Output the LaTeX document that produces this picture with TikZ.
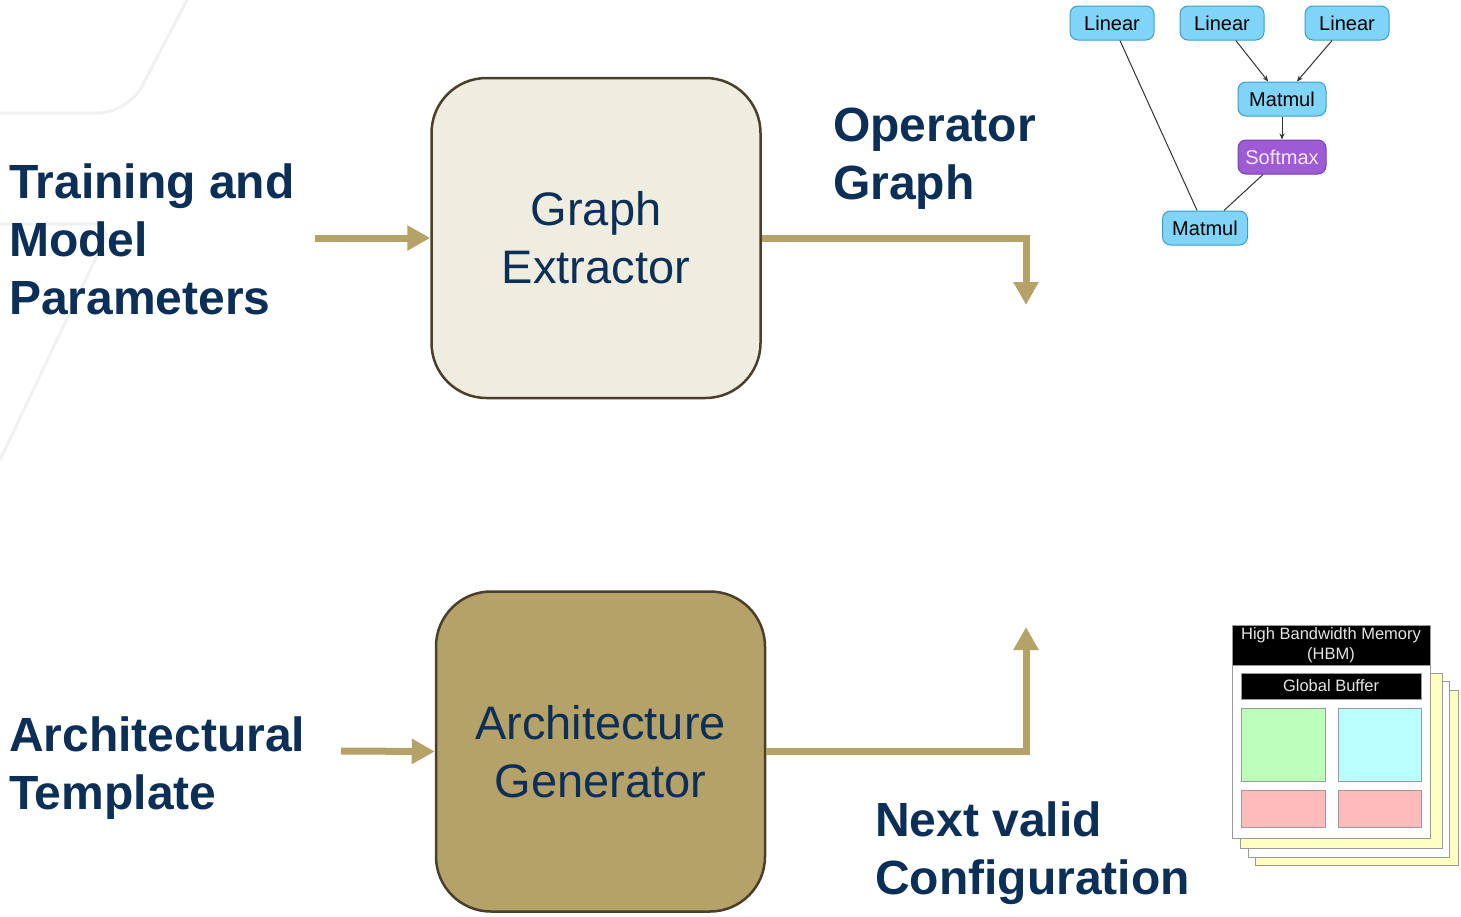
\documentclass[tikz,border=0pt]{standalone}
\usepackage{fontspec}
\setmainfont{Liberation Sans}
\usetikzlibrary{arrows.meta}
\definecolor{navy}{HTML}{0C2F57}
\definecolor{khaki}{HTML}{B5A268}
\definecolor{cream}{HTML}{EFECE0}
\definecolor{boxline}{HTML}{4A3F2A}
\definecolor{opblue}{HTML}{80D4F7}
\definecolor{opblueline}{HTML}{3C9CCC}
\definecolor{softfill}{HTML}{9D5CD6}
\definecolor{softline}{HTML}{7A3FB0}
\definecolor{softtext}{HTML}{F3E8FF}
\definecolor{faint}{HTML}{F1F1F1}
\definecolor{memyellow}{HTML}{FFFFC4}
\definecolor{memgreen}{HTML}{BBFFBB}
\definecolor{memcyan}{HTML}{BBFFFF}
\definecolor{mempink}{HTML}{FFBBBB}
\definecolor{memline}{HTML}{999999}
\tikzset{
  stagebox/.style={draw=boxline, line width=2.5pt, rounded corners=55pt,
    minimum width=329pt, minimum height=320pt, align=center, text=navy,
    font=\fontsize{47}{58}\selectfont},
  biglabel/.style={anchor=west, align=left, inner sep=0pt, text=navy,
    font=\fontsize{48}{58}\selectfont\bfseries},
  flow/.style={draw=khaki, line width=7pt,
    -{Triangle[width=24pt,length=23pt]}},
  opnode/.style={draw=opblueline, fill=opblue, line width=1pt,
    rounded corners=8pt, minimum width=84pt, minimum height=34pt,
    inner sep=0pt, font=\fontsize{20}{24}\selectfont},
  opedge/.style={draw=black!80, line width=1pt},
  oparrow/.style={opedge, -{Stealth[length=6pt,width=5pt]}},
  memlayer/.style={draw=memline, line width=1pt},
  memblack/.style={fill=black, draw=memline, line width=1pt, inner sep=0pt,
    align=center, text=white!90!black, font=\fontsize{16.5}{19.5}\selectfont},
}
\begin{document}
\begin{tikzpicture}[x=1pt,y=-1pt]
\useasboundingbox (0,0) rectangle (1461,916);

% faint decorative strokes in the corner
\draw[faint, line width=3pt, rounded corners=30pt]
  (187,0) -- (128,113) -- (0,113);
\draw[faint, line width=3pt, rounded corners=20pt]
  (0,224) -- (112,224) -- (0,460);

% main stages
\node[stagebox, fill=cream] (ge) at (596,238) {Graph\\Extractor};
\node[stagebox, fill=khaki] (ag) at (600.5,751.5) {Architecture\\Generator};

% labels
\node[biglabel] (tmp) at (9,239) {Training and\\Model\\Parameters};
\node[biglabel] (at) at (9,768) {Architectural\\Template};
\node[biglabel] (og) at (833,159) {Operator\\Graph};
\node[biglabel] (nvc) at (875,853) {Next valid\\Configuration};

% flow connectors
\coordinate (in1) at (315,238);
\coordinate (in2) at (341,751);
\coordinate (out1) at (1026,305);
\coordinate (out2) at (1026,627);
\draw[flow] (in1) -- (ge.west);
\draw[flow] (in2) -- (ag.west);
\draw[flow] (ge.east) -| (out1);
\draw[flow] (ag.east) -| (out2);

% operator graph
\node[opnode] (l1) at (1112,23) {Linear};
\node[opnode] (l2) at (1222,23) {Linear};
\node[opnode] (l3) at (1347,23) {Linear};
\node[opnode, minimum width=88pt] (m1) at (1282,99) {Matmul};
\node[opnode, minimum width=88pt, fill=softfill, draw=softline, text=softtext] (sm) at (1282,157) {Softmax};
\node[opnode, minimum width=85pt] (m2) at (1205,228) {Matmul};
\draw[opedge] (l1) -- (m2);
\draw[oparrow] (l2) -- (m1);
\draw[oparrow] (l3) -- (m1);
\draw[oparrow] (m1) -- (sm);
\draw[opedge] (sm) -- (m2);

% memory hierarchy stack
\draw[memlayer, fill=memyellow] (1255,690) rectangle (1458,865);
\draw[memlayer, fill=white] (1248,681) rectangle (1449,857);
\draw[memlayer, fill=memyellow] (1240,673) rectangle (1442,848);
\draw[memlayer, fill=white] (1232,625) rectangle (1430,838);
\node[memblack, minimum width=198pt, minimum height=40pt] (hbm) at (1331,645)
  {High Bandwidth Memory\\(HBM)};
\node[memblack, minimum width=180pt, minimum height=26pt] (gb) at (1331,686)
  {Global Buffer};
\draw[memlayer, fill=memgreen] (1241,708) rectangle (1325,781);
\draw[memlayer, fill=memcyan] (1338,708) rectangle (1421,781);
\draw[memlayer, fill=mempink] (1241,790) rectangle (1325,827);
\draw[memlayer, fill=mempink] (1338,790) rectangle (1421,827);
\end{tikzpicture}
\end{document}
